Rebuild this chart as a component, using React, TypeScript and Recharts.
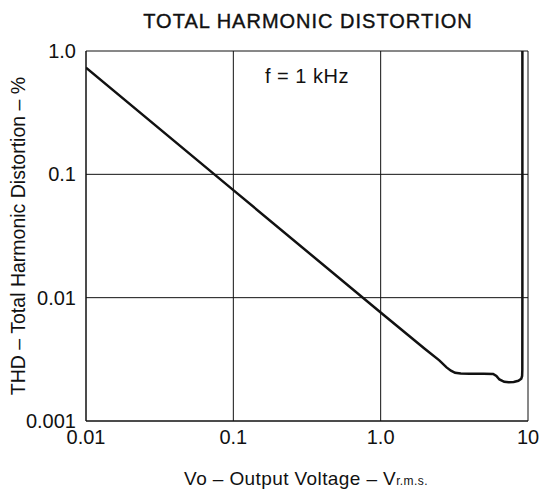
import React from 'react';
import { LineChart, Line, XAxis, YAxis, CartesianGrid, Label } from 'recharts';

// THD vs output voltage, f = 1 kHz
const outputVoltage = [
  0.01, 0.1, 1.0, 2.0, 2.5, 2.8, 3.0, 3.2, 3.5, 4.0, 5.0, 5.8, 6.1, 6.4, 6.9, 7.4, 8.0, 8.6, 9.0, 9.12,
  9.15, 9.16, 9.16,
];
const thdPercent = [
  0.733, 0.0745, 0.00757, 0.00384, 0.0031, 0.00272, 0.00256, 0.00246, 0.00243, 0.00242, 0.00242,
  0.00241, 0.00232, 0.00217, 0.00208, 0.00206, 0.00207, 0.00212, 0.0022, 0.00232, 0.0026, 0.01, 1.0,
];

const xTicks = [0.01, 0.1, 1, 10];
const xTickLabels = ['0.01', '0.1', '1.0', '10'];
const yTicks = [0.001, 0.01, 0.1, 1];
const yTickLabels = ['0.001', '0.01', '0.1', '1.0'];

const chartData = outputVoltage.map((v, i) => ({ v, thd: thdPercent[i] }));

const FONT = '"Liberation Sans", Arial, Helvetica, sans-serif';

if (typeof document !== 'undefined') {
  document.body.style.margin = '0';
}

export default function App() {
  const fmtX = (val: number) => xTickLabels[xTicks.indexOf(val)] ?? String(val);
  const fmtY = (val: number) => yTickLabels[yTicks.indexOf(val)] ?? String(val);

  return (
    <div style={{ width: 542, height: 489, background: '#fff', position: 'relative', fontFamily: FONT }}>
      <LineChart
        width={542}
        height={489}
        data={chartData}
        margin={{ top: 51, right: 14, bottom: 0, left: 0 }}
      >
        <CartesianGrid stroke="#111" strokeWidth={1} />
        <XAxis
          dataKey="v"
          type="number"
          scale="log"
          domain={[0.01, 10]}
          ticks={xTicks}
          tickFormatter={fmtX}
          allowDataOverflow
          height={68}
          axisLine={{ stroke: '#111' }}
          tickLine={false}
          tick={{ fill: '#111', fontSize: 20, fontFamily: FONT }}
          tickMargin={3}
        />
        <YAxis
          dataKey="thd"
          type="number"
          scale="log"
          domain={[0.001, 1]}
          ticks={yTicks}
          tickFormatter={fmtY}
          allowDataOverflow
          width={86}
          axisLine={{ stroke: '#111' }}
          tickLine={false}
          tick={{ fill: '#111', fontSize: 20, fontFamily: FONT }}
          tickMargin={4}
        >
          <Label
            value="THD – Total Harmonic Distortion – %"
            angle={-90}
            position="insideLeft"
            offset={18}
            style={{ fill: '#111', fontSize: 19.5, fontFamily: FONT, textAnchor: 'middle' }}
          />
        </YAxis>
        <Line
          type="linear"
          dataKey="thd"
          stroke="#111"
          strokeWidth={2.5}
          dot={false}
          isAnimationActive={false}
        />
        <text
          x={308}
          y={28}
          textAnchor="middle"
          fontSize={20}
          letterSpacing={1}
          fontFamily={FONT}
          fill="#111"
          stroke="#111"
          strokeWidth={0.4}
        >
          TOTAL HARMONIC DISTORTION
        </text>
        <text x={307} y={83} textAnchor="middle" fontSize={20} letterSpacing={0.5} fontFamily={FONT} fill="#111">
          f = 1 kHz
        </text>
        <text x={306} y={485} textAnchor="middle" fontSize={19} letterSpacing={0.4} fontFamily={FONT} fill="#111">
          Vo – Output Voltage – V<tspan fontSize={12}>r.m.s.</tspan>
        </text>
      </LineChart>
    </div>
  );
}
